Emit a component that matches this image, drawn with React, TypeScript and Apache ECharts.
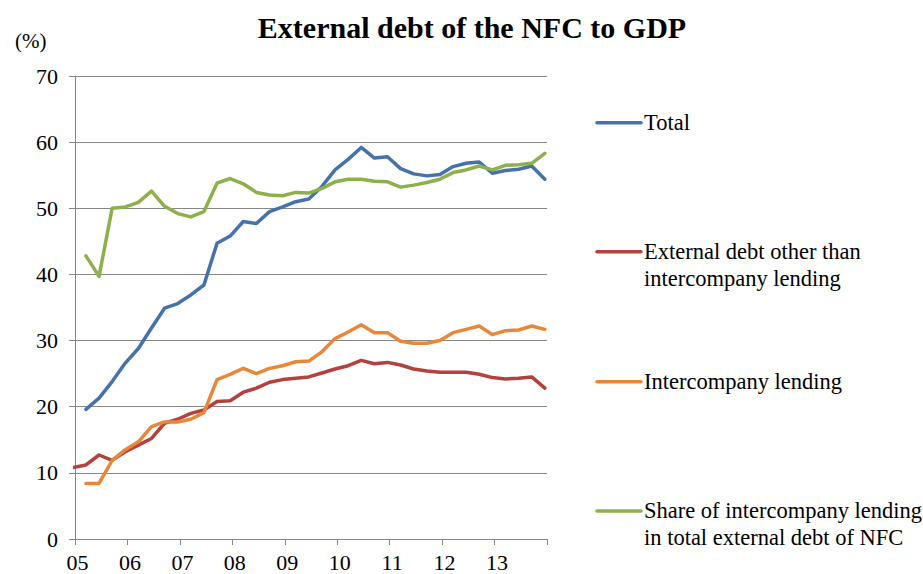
import React, { useEffect, useRef } from "react";
import * as echarts from "echarts";

const quarters = [
  "2004Q4",
  "2005Q1", "2005Q2", "2005Q3", "2005Q4",
  "2006Q1", "2006Q2", "2006Q3", "2006Q4",
  "2007Q1", "2007Q2", "2007Q3", "2007Q4",
  "2008Q1", "2008Q2", "2008Q3", "2008Q4",
  "2009Q1", "2009Q2", "2009Q3", "2009Q4",
  "2010Q1", "2010Q2", "2010Q3", "2010Q4",
  "2011Q1", "2011Q2", "2011Q3", "2011Q4",
  "2012Q1", "2012Q2", "2012Q3", "2012Q4",
  "2013Q1", "2013Q2", "2013Q3", "2013Q4",
];

const total = [
  null,
  19.6, 21.3, 23.8, 26.6, 28.8, 31.9, 34.9, 35.6, 36.9, 38.4, 44.7, 45.8,
  48.0, 47.7, 49.5, 50.2, 51.0, 51.4, 53.3, 55.8, 57.4, 59.2, 57.6, 57.8,
  56.0, 55.2, 54.9, 55.1, 56.3, 56.8, 57.0, 55.3, 55.7, 55.9, 56.4, 54.4,
];

const otherDebt = [
  10.8,
  11.2, 12.7, 11.9, 13.2, 14.2, 15.2, 17.5, 18.1, 19.0, 19.5, 20.8, 20.9,
  22.2, 22.8, 23.7, 24.1, 24.3, 24.5, 25.1, 25.7, 26.2, 27.0, 26.5, 26.7,
  26.3, 25.7, 25.4, 25.2, 25.2, 25.2, 24.9, 24.4, 24.2, 24.3, 24.5, 22.8,
];

const intercompany = [
  null,
  8.4, 8.4, 11.9, 13.5, 14.7, 17.0, 17.7, 17.7, 18.1, 19.1, 24.1, 24.9,
  25.8, 25.0, 25.8, 26.2, 26.8, 26.9, 28.3, 30.3, 31.3, 32.4, 31.2, 31.2,
  29.9, 29.6, 29.6, 30.0, 31.2, 31.7, 32.2, 30.9, 31.5, 31.6, 32.2, 31.7,
];

const share = [
  null,
  42.8, 39.7, 50.0, 50.2, 50.9, 52.6, 50.3, 49.2, 48.7, 49.5, 53.8, 54.5,
  53.7, 52.4, 52.0, 51.9, 52.4, 52.3, 53.0, 54.0, 54.4, 54.4, 54.1, 54.0,
  53.2, 53.5, 53.9, 54.4, 55.4, 55.8, 56.4, 55.8, 56.5, 56.6, 56.8, 58.3,
];

const seriesNames = [
  "Total",
  "External debt other than\nintercompany lending",
  "Intercompany lending",
  "Share of intercompany lending\nin total external debt of NFC",
];
const seriesColors = ["#4672AC", "#B3413E", "#E8873A", "#8DB04B"];
const seriesValues = [total, otherDebt, intercompany, share];

const yTicks = [0, 10, 20, 30, 40, 50, 60, 70];

const FONT = '"Liberation Serif", "Times New Roman", serif';

// quarter label -> decimal year at the middle of the quarter's last month
function quarterToYear(q: string): number {
  const y = parseInt(q.slice(0, 4), 10);
  const n = parseInt(q.slice(5), 10);
  return y + (n * 3) / 12 - 1 / 24;
}

export default function App() {
  const ref = useRef<HTMLDivElement>(null);

  useEffect(() => {
    if (!ref.current) return;
    const chart = echarts.init(ref.current, undefined, { renderer: "svg" });

    const legendY = [122.7, 251.7, 381.7, 511];
    const legendGraphics: any[] = [];
    seriesNames.forEach((name, i) => {
      legendGraphics.push({
        type: "line",
        shape: { x1: 597, y1: legendY[i], x2: 641, y2: legendY[i] },
        style: { stroke: seriesColors[i], lineWidth: 3.5, lineCap: "round" },
      });
      legendGraphics.push({
        type: "text",
        x: 644,
        y: legendY[i] - 13.4,
        style: {
          text: name,
          fontFamily: FONT,
          fontSize: 22.5,
          lineHeight: 26.8,
          fill: "#000",
          textAlign: "left",
          textVerticalAlign: "top",
          verticalAlign: "top",
        },
      });
    });

    chart.setOption({
      animation: false,
      backgroundColor: "#fff",
      title: {
        text: "External debt of the NFC to GDP",
        left: 467,
        top: 7,
        textAlign: "center",
        textStyle: {
          fontFamily: FONT,
          fontSize: 30,
          fontWeight: "bold",
          color: "#000",
        },
      },
      grid: { left: 75, right: 376, top: 76, bottom: 35, containLabel: false },
      xAxis: {
        type: "value",
        min: 2005,
        max: 2014,
        interval: 1,
        axisLine: { show: true, lineStyle: { color: "#868686", width: 1 } },
        axisTick: { show: true, length: 6, lineStyle: { color: "#868686" } },
        splitLine: { show: false },
        axisLabel: {
          fontFamily: FONT,
          fontSize: 22,
          color: "#000",
          margin: 12,
          padding: [0, 0, 0, 5],
          formatter: (v: number) => (v < 2014 ? String(v).slice(2) : ""),
        },
      },
      yAxis: {
        type: "value",
        min: yTicks[0],
        max: yTicks[yTicks.length - 1],
        interval: 10,
        axisLine: { show: true, lineStyle: { color: "#868686", width: 1 } },
        axisTick: { show: true, length: 6, lineStyle: { color: "#868686" } },
        splitLine: { show: true, lineStyle: { color: "#868686", width: 1 } },
        axisLabel: {
          fontFamily: FONT,
          fontSize: 22,
          color: "#000",
          margin: 17,
        },
      },
      series: seriesNames.map((name, i) => ({
        name,
        type: "line",
        symbol: "none",
        clip: true,
        connectNulls: false,
        lineStyle: {
          color: seriesColors[i],
          width: 3.5,
          cap: "round",
          join: "round",
        },
        itemStyle: { color: seriesColors[i] },
        data: quarters.map((q, k) => [quarterToYear(q), seriesValues[i][k]]),
      })),
      graphic: [
        {
          type: "text",
          x: 15,
          y: 41,
          style: {
            text: "(%)",
            fontFamily: FONT,
            fontSize: 21,
            fill: "#000",
            textVerticalAlign: "middle",
            verticalAlign: "middle",
          },
        },
        ...legendGraphics,
      ],
    });

    return () => chart.dispose();
  }, []);

  return (
    <div
      ref={ref}
      style={{ position: "fixed", left: 0, top: 0, width: 923, height: 574 }}
    />
  );
}
